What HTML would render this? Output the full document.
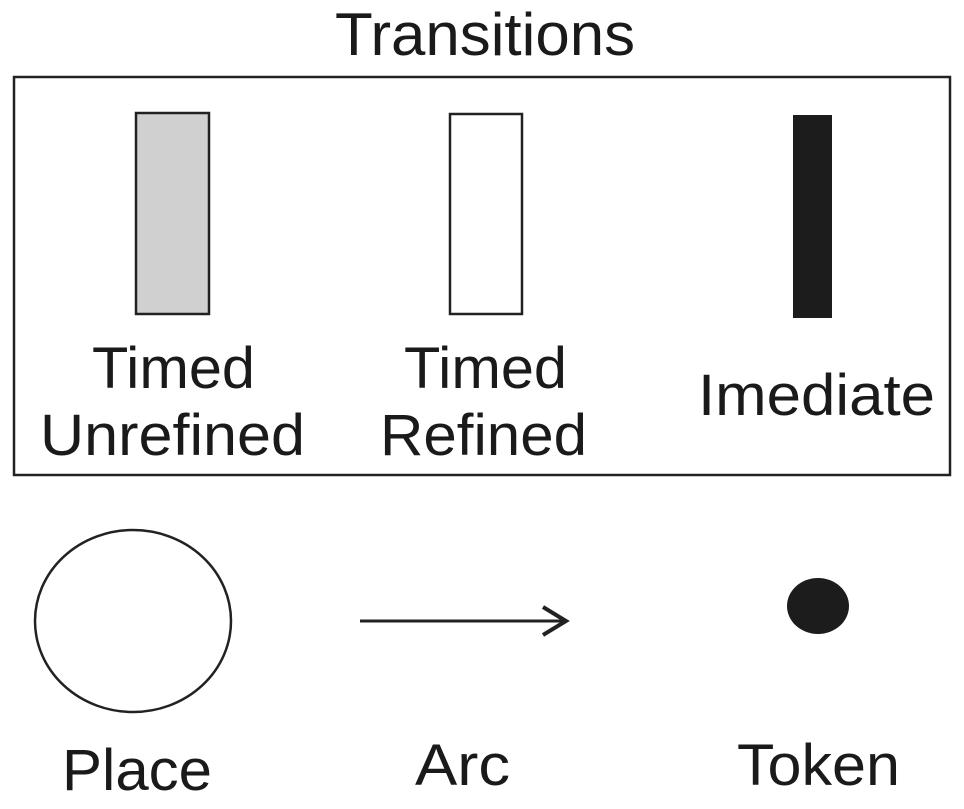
<!DOCTYPE html>
<html><head><meta charset="utf-8"><style>
html,body{margin:0;padding:0;background:#fff;}
body{width:964px;height:804px;overflow:hidden;}
text{font-family:"Liberation Sans",Arial,sans-serif;fill:#1a1a1a;}
</style></head><body>
<svg width="964" height="804" viewBox="0 0 964 804" xmlns="http://www.w3.org/2000/svg">
<text x="335" y="55" font-size="60" textLength="300" lengthAdjust="spacingAndGlyphs">Transitions</text>
<rect x="14" y="77" width="936" height="398" fill="none" stroke="#222" stroke-width="2.5"/>
<rect x="136" y="113" width="73" height="201" fill="#d0d0d0" stroke="#222" stroke-width="2.5"/>
<rect x="450" y="114" width="72" height="200" fill="#fff" stroke="#222" stroke-width="2.5"/>
<rect x="793" y="115" width="39" height="203" fill="#1c1c1c"/>
<text x="92" y="388" font-size="58" textLength="163" lengthAdjust="spacingAndGlyphs">Timed</text>
<text x="40" y="455" font-size="58" textLength="265" lengthAdjust="spacingAndGlyphs">Unrefined</text>
<text x="404" y="388" font-size="58" textLength="163" lengthAdjust="spacingAndGlyphs">Timed</text>
<text x="380" y="455" font-size="58" textLength="207" lengthAdjust="spacingAndGlyphs">Refined</text>
<text x="698" y="415" font-size="58" textLength="237" lengthAdjust="spacingAndGlyphs">Imediate</text>
<ellipse cx="133" cy="621" rx="98" ry="91" fill="none" stroke="#222" stroke-width="2.5"/>
<line x1="360" y1="621" x2="565" y2="621" stroke="#222" stroke-width="3"/>
<polyline points="543,607 566,621 543,635" fill="none" stroke="#222" stroke-width="4"/>
<ellipse cx="818" cy="606" rx="31" ry="28" fill="#1c1c1c"/>
<text x="62" y="790" font-size="58" textLength="150" lengthAdjust="spacingAndGlyphs">Place</text>
<text x="415" y="785" font-size="58" textLength="95" lengthAdjust="spacingAndGlyphs">Arc</text>
<text x="737" y="785" font-size="58" textLength="163" lengthAdjust="spacingAndGlyphs">Token</text>
</svg>
</body></html>
